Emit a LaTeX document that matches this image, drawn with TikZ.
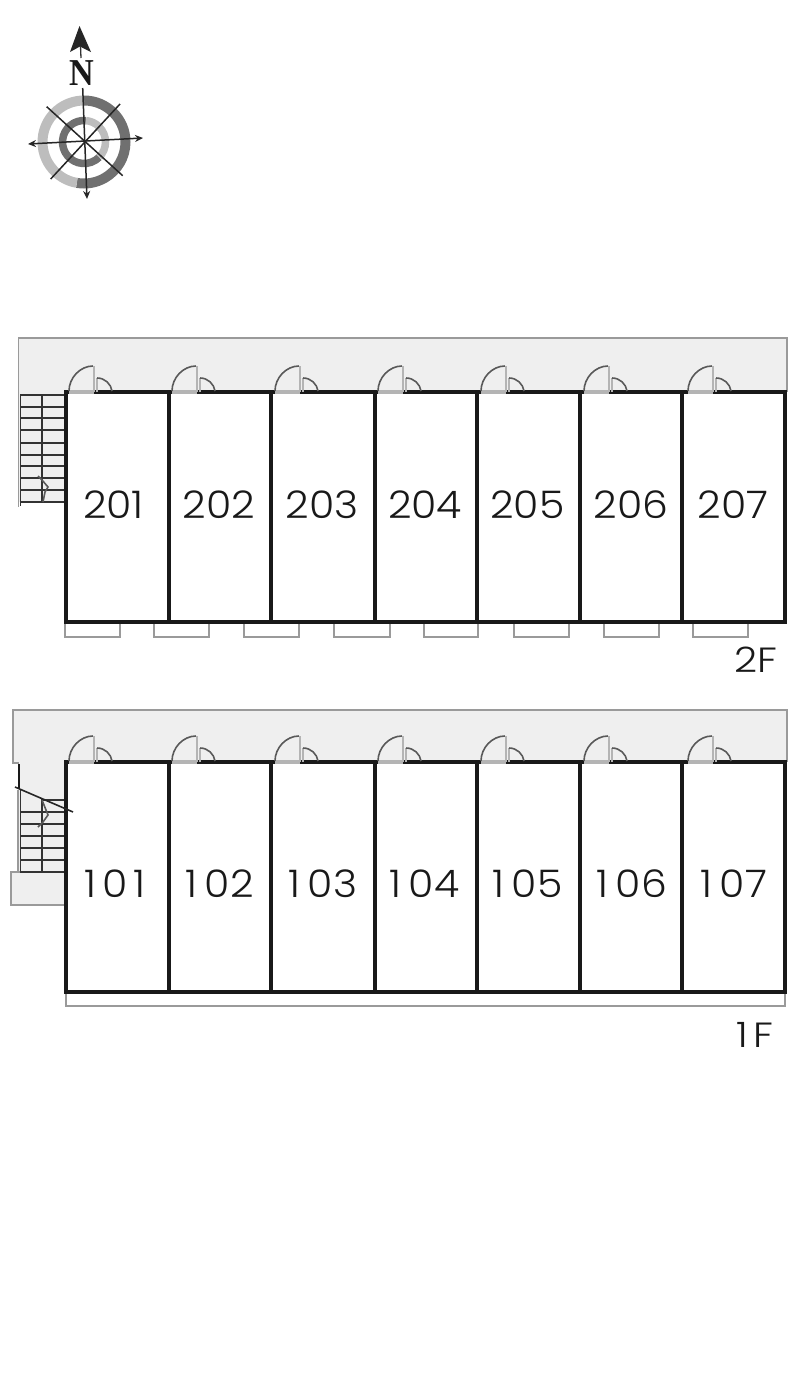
\documentclass[tikz,border=0pt]{standalone}
\usepackage{fontspec}
\newfontfamily\roomfont{Poppins Light}
\newfontfamily\northfont{Liberation Serif}
\usetikzlibrary{arrows.meta}
\tikzset{>={Stealth[length=8pt, width=7pt]}}
\definecolor{floorgrey}{HTML}{EFEFEF}
\definecolor{edgegrey}{HTML}{9A9A9A}
\definecolor{sillgrey}{HTML}{B4B4B4}
\definecolor{ringlight}{HTML}{BDBDBD}
\definecolor{ringdark}{HTML}{707070}
\newcommand\rone[1]{1\kern.16em 0\kern.03em #1}
\tikzstyle{wall}    = [line width=3.3pt, color=black!90, line cap=rect]
\tikzstyle{edge}    = [line width=1.7pt, color=edgegrey]
\tikzstyle{swing}   = [line width=1.6pt, color=black!65]
\tikzstyle{post}    = [line width=2.8pt, color=sillgrey]
\tikzstyle{tread}   = [line width=1.9pt, color=black!80]
\tikzstyle{needle}  = [line width=1.5pt, color=black!85]
\tikzstyle{roomno}  = [font=\roomfont\fontsize{38}{38}\selectfont, inner sep=0pt, color=black!90, xscale=1.08]
\tikzstyle{floorno} = [font=\roomfont\fontsize{35}{35}\selectfont, inner sep=0pt, color=black!90, xscale=1.15]
% main leaf, small leaf and the sill between them
\newcommand\doorset[2]{
  \draw[line width=3.6pt, color=sillgrey] (#1,#2) -- (#1+25,#2);
  \draw[swing] (#1,#2-1) .. controls (#1,#2-14) and (#1+11,#2-26) .. (#1+24,#2-26);
  \draw[post] (#1+25,#2-26) -- (#1+25,#2);
  \draw[post] (#1+28,#2-14) -- (#1+28,#2);
  \draw[swing] (#1+28,#2-14) .. controls (#1+36,#2-14) and (#1+42,#2-8) .. (#1+43,#2-1);
}
\newcommand\sillbox[2]{
  \draw[edge] (#1,622) -- (#1,637) -- (#2,637) -- (#2,622);
}
\newcommand\ringpart[5]{
  \draw[line width=#5pt, color=#4] (compass) ++(#1:#3pt) arc[start angle=#1, end angle=#2, radius=#3pt];
}
\begin{document}
\begin{tikzpicture}[x=1pt, y=-1pt]
    \useasboundingbox (0,0) rectangle (800,1373);
    % compass
    \coordinate (compass) at (84,142);
    \ringpart{90}{-100}{41.5}{ringdark}{10}
    \ringpart{-100}{-270}{41.5}{ringlight}{10}
    \ringpart{85}{315}{21.5}{ringdark}{7.5}
    \ringpart{-45}{85}{21.5}{ringlight}{7.5}
    \coordinate (needleN) at (82.7,88);
    \coordinate (needleS) at (87,199);
    \coordinate (needleW) at (28,144);
    \coordinate (needleE) at (143,138);
    \coordinate (diagA) at (46.7,106.7);
    \coordinate (diagB) at (122.7,175.7);
    \coordinate (diagC) at (120,104);
    \coordinate (diagD) at (50.7,179);
    \draw[needle, ->] (needleN) -- (needleS);
    \draw[needle, <->] (needleW) -- (needleE);
    \draw[needle] (diagA) -- (diagB);
    \draw[needle] (diagC) -- (diagD);
    \fill[black!85] (79.5,26) -- (91,52) -- (80,46.5) -- (70,52) -- cycle;
    \draw[line width=1.3pt, black!80] (80.5,46) -- (81,58);
    \draw (81.7,73.5) node[font=\northfont\bfseries\fontsize{38}{38}\selectfont, inner sep=0pt, xscale=.9, color=black!90] (north) {N};

    % second floor
    \fill[floorgrey] (18,338) rectangle (787,392);
    \fill[floorgrey] (19,392) rectangle (66,502);
    \draw[edge] (18.5,507) -- (18.5,338) -- (787,338) -- (787,392);
    \draw[tread] (20.5,395) -- (20.5,506);
    \draw[tread] (42,395) -- (42,502);
    \draw[tread] (20,395) -- (66,395);
    \draw[tread] (20,407) -- (66,407);
    \draw[tread] (20,418) -- (66,418);
    \draw[tread] (20,430) -- (66,430);
    \draw[tread] (20,443) -- (66,443);
    \draw[tread] (20,455) -- (66,455);
    \draw[tread] (20,466) -- (66,466);
    \draw[tread] (20,478) -- (66,478);
    \draw[tread] (20,490) -- (66,490);
    \draw[tread] (20,502) -- (66,502);
    \draw[swing] (38,476) -- (42,480) -- (48,487) -- (45,492) -- (43,502);
    \sillbox{65}{120}
    \sillbox{154}{209}
    \sillbox{244}{299}
    \sillbox{334}{390}
    \sillbox{424}{478}
    \sillbox{514}{569}
    \sillbox{604}{659}
    \sillbox{693}{748}
    \draw[wall, fill=white] (66,392) rectangle (785,622);
    \draw[wall] (169,392) -- (169,622);
    \draw[wall] (271,392) -- (271,622);
    \draw[wall] (375,392) -- (375,622);
    \draw[wall] (477,392) -- (477,622);
    \draw[wall] (580,392) -- (580,622);
    \draw[wall] (682,392) -- (682,622);
    \doorset{69}{392}
    \doorset{172}{392}
    \doorset{275}{392}
    \doorset{378}{392}
    \doorset{481}{392}
    \doorset{584}{392}
    \doorset{688}{392}
    \draw (113.5,505) node[roomno] (r201) {201};
    \draw (219,505) node[roomno] (r202) {202};
    \draw (322,505) node[roomno] (r203) {203};
    \draw (425,505) node[roomno] (r204) {204};
    \draw (527.5,505) node[roomno] (r205) {205};
    \draw (631,505) node[roomno] (r206) {206};
    \draw (733,505) node[roomno] (r207) {207};
    \draw (755.5,660) node[floorno] (f2) {2F};

    % first floor
    \fill[floorgrey] (13,710) rectangle (787,762);
    \fill[floorgrey] (19,762) rectangle (66,872);
    \draw[edge] (19,763) -- (13,763) -- (13,710) -- (787,710) -- (787,762);
    \draw[edge] (18,790) -- (18,872);
    \draw[edge, fill=floorgrey] (66,872) -- (11,872) -- (11,905) -- (66,905);
    \draw[wall, line width=2.4pt] (19,765) -- (19,788);
    \coordinate (cutL) at (15,787);
    \coordinate (cutR) at (73,812);
    \draw[tread] (20.5,790) -- (20.5,872);
    \draw[tread] (42,798) -- (42,872);
    \draw[tread] (42,800) -- (66,800);
    \draw[tread] (20,812) -- (66,812);
    \draw[tread] (20,824) -- (66,824);
    \draw[tread] (20,836) -- (66,836);
    \draw[tread] (20,848) -- (66,848);
    \draw[tread] (20,860) -- (66,860);
    \draw[tread] (20,872) -- (66,872);
    \draw[swing] (42,800) -- (48,815) -- (43,822) -- (38,827);
    \draw[edge, fill=white] (66,992) rectangle (785,1006);
    \draw[wall, fill=white] (66,762) rectangle (785,992);
    \draw[wall] (169,762) -- (169,992);
    \draw[wall] (271,762) -- (271,992);
    \draw[wall] (375,762) -- (375,992);
    \draw[wall] (477,762) -- (477,992);
    \draw[wall] (580,762) -- (580,992);
    \draw[wall] (682,762) -- (682,992);
    \draw[line width=1.6pt, black!85] (cutL) -- (cutR);
    \doorset{69}{762}
    \doorset{172}{762}
    \doorset{275}{762}
    \doorset{378}{762}
    \doorset{481}{762}
    \doorset{584}{762}
    \doorset{688}{762}
    \draw (115,884) node[roomno] (r101) {\rone{\kern.12em 1}};
    \draw (220,884) node[roomno] (r102) {\rone{2}};
    \draw (323,884) node[roomno] (r103) {\rone{3}};
    \draw (425,884) node[roomno] (r104) {\rone{4}};
    \draw (528,884) node[roomno] (r105) {\rone{5}};
    \draw (632,884) node[roomno] (r106) {\rone{6}};
    \draw (734,884) node[roomno] (r107) {\rone{7}};
    \draw (755,1035) node[floorno] (f1) {1\kern.12em F};
\end{tikzpicture}
\end{document}
